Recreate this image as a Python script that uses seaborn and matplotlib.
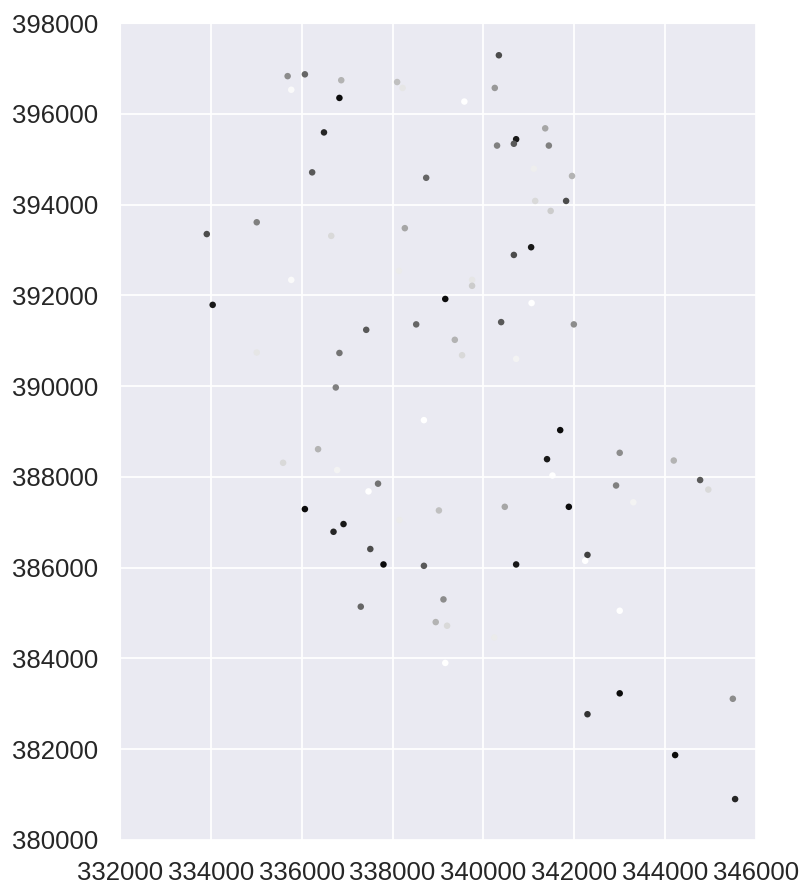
import matplotlib
matplotlib.use("Agg")
import matplotlib.pyplot as plt
import seaborn as sns
import pandas as pd
import numpy as np

# pixel-read positions converted to data coordinates
px = [287.7, 305, 341.3, 291.3, 339.3, 324, 312.3, 256.7, 206.7, 331.3, 291.3,
      397.3, 402.7, 464.3, 499, 495, 545, 516, 514, 497, 549, 534, 426, 572, 566,
      535.3, 550.7, 404.7, 531, 514, 399, 472, 472, 445.3,
      212.7, 256.7, 339.3, 335.7, 318.3, 283.3, 337.3, 305, 343.3, 333.7,
      366.3, 416.3, 454.7, 462.3, 501, 531.7, 516, 424, 560.3, 547, 552.7,
      378, 368.3, 370.3, 383.3, 439, 399.3, 424, 504.7, 569, 516,
      573.7, 619.7, 673.7, 616, 700.3, 708.3, 633.3, 587.3, 585.3,
      619.7, 619.7, 587.3, 733, 675.3, 735,
      360.7, 443.3, 435.7, 447, 494.3, 445.3]
py = [76.3, 74.3, 80.3, 89.7, 97.7, 132.3, 172.3, 222.3, 234, 236, 280,
      82, 87.7, 101.3, 55, 88, 128.3, 139.3, 143.7, 145.7, 145.7, 168.7, 178, 176, 201,
      201, 210.7, 228.3, 247.3, 255, 270.7, 280, 285.7, 299,
      305, 352.7, 353, 387.7, 449, 462.7, 470, 509, 524.3, 531.7,
      330, 324.3, 339.7, 355.3, 322.3, 303, 359, 420.3, 430, 459, 475.7,
      483.7, 491.3, 549, 564.3, 510.7, 520, 566, 507, 507, 564.3,
      324.3, 453, 460.7, 485.7, 480, 489.7, 502.3, 555, 561,
      610.7, 693.3, 714.3, 699, 755, 799,
      606.7, 599.3, 622.3, 626, 637.7, 663]
shade = [0.55, 0.4, 0.7, 0.98, 0.05, 0.15, 0.35, 0.5, 0.3, 0.85, 0.98,
         0.75, 0.9, 1.0, 0.3, 0.6, 0.65, 0.1, 0.35, 0.5, 0.5, 0.93, 0.4, 0.7, 0.3,
         0.85, 0.8, 0.65, 0.1, 0.3, 0.92, 0.9, 0.8, 0.05,
         0.1, 0.9, 0.45, 0.5, 0.7, 0.85, 0.95, 0.05, 0.1, 0.15,
         0.35, 0.4, 0.7, 0.85, 0.35, 1.0, 0.95, 1.0, 0.05, 0.1, 1.0,
         0.45, 1.0, 0.3, 0.05, 0.75, 0.92, 0.35, 0.65, 0.05, 0.1,
         0.55, 0.55, 0.7, 0.5, 0.35, 0.85, 0.95, 0.25, 1.0,
         1.0, 0.05, 0.2, 0.55, 0.05, 0.15,
         0.4, 0.55, 0.7, 0.85, 0.92, 1.0]

easting = [round(332000 + (p - 120) / 0.04543, -1) for p in px]
northing = [round(398000 - (q - 23) / 0.04539, -1) for q in py]

x_ticks = [332000, 334000, 336000, 338000, 340000, 342000, 344000, 346000]
y_ticks = [380000, 382000, 384000, 386000, 388000, 390000, 392000, 394000, 396000, 398000]

df = pd.DataFrame({"x": easting, "y": northing, "v": shade})

sns.set_style("darkgrid")
plt.rcParams["font.family"] = ["Liberation Sans", "DejaVu Sans"]

fig = plt.figure(figsize=(8, 8.86), dpi=100)
ax = fig.add_axes([0.15, 0.052, 0.795, 0.922])
sns.scatterplot(data=df, x="x", y="y", hue="v", palette="gray", hue_norm=(0, 1),
                s=22, linewidth=0, legend=False, ax=ax)
ax.set_xlim(332000, 346000)
ax.set_ylim(380000, 398000)
ax.set_xticks(x_ticks)
ax.set_yticks(y_ticks)
ax.set_xticklabels([str(t) for t in x_ticks])
ax.set_yticklabels([str(t) for t in y_ticks])
ax.tick_params(labelsize=18.5, pad=12, colors="#262626")
ax.grid(color="white", linewidth=1.3)
ax.set_xlabel("")
ax.set_ylabel("")
fig.savefig("out.png", dpi=100)
